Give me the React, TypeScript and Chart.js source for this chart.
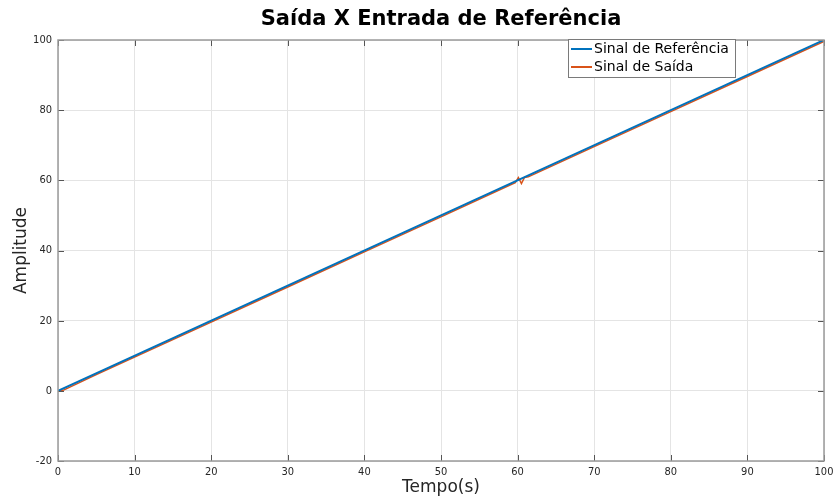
import React, { useEffect, useRef } from "react";
import { Chart, registerables } from "chart.js";

Chart.register(...registerables);

// Reference signal: a unit ramp
const refTime = [0, 100];
const refValue = [0, 100];

// Output signal: follows the ramp with a small lag, brief disturbance near t = 60 s
const outTime = [0, 0.5, 1, 5, 10, 20, 30, 40, 50, 59.7, 60.1, 60.5, 60.9, 61.4, 70, 80, 90, 100];
const outValue = [0, 0, 0.5, 4.6, 9.6, 19.6, 29.6, 39.6, 49.6, 59.3, 60.8, 59.1, 60.8, 61.0, 69.6, 79.6, 89.6, 99.6];

const xTicks = [0, 10, 20, 30, 40, 50, 60, 70, 80, 90, 100];
const yTicks = [-20, 0, 20, 40, 60, 80, 100];

const titleText = "Saída X Entrada de Referência";
const xLabel = "Tempo(s)";
const yLabel = "Amplitude";
const seriesNames = ["Sinal de Referência", "Sinal de Saída"];
const seriesColors = ["#0072BD", "#D95319"];

const TICK_FONT = "'DejaVu Sans Condensed', 'DejaVu Sans', sans-serif";
const FONT = "'DejaVu Sans', sans-serif";
const AXIS = "#262626";

export default function App() {
  const canvasRef = useRef<HTMLCanvasElement>(null);

  useEffect(() => {
    document.body.style.margin = "0";
    const ctx = canvasRef.current!.getContext("2d")!;

    const decor = {
      id: "decor",
      afterDraw(chart: any) {
        const c = chart.ctx;
        const { left, right, top, bottom } = chart.chartArea;
        const xs = chart.scales.x;
        const ys = chart.scales.y;
        c.save();
        // inward tick marks
        c.strokeStyle = "#555";
        c.lineWidth = 1;
        c.beginPath();
        xTicks.forEach((t) => {
          const px = Math.round(xs.getPixelForValue(t)) + 0.5;
          c.moveTo(px, bottom);
          c.lineTo(px, bottom - 6);
          c.moveTo(px, top);
          c.lineTo(px, top + 6);
        });
        yTicks.forEach((t) => {
          const py = Math.round(ys.getPixelForValue(t)) + 0.5;
          c.moveTo(left, py);
          c.lineTo(left + 6, py);
          c.moveTo(right, py);
          c.lineTo(right - 6, py);
        });
        c.stroke();
        // axes box
        c.strokeStyle = "#9a9a9a";
        c.lineWidth = 1.5;
        c.strokeRect(left, top, right - left, bottom - top);

        // title
        c.fillStyle = "#000";
        c.font = `bold 21px ${FONT}`;
        c.textAlign = "center";
        c.textBaseline = "middle";
        c.fillText(titleText, (left + right) / 2, 20);

        // axis labels
        c.fillStyle = AXIS;
        c.font = `17px ${FONT}`;
        c.fillText(xLabel, (left + right) / 2, 488);
        c.save();
        c.translate(22, (top + bottom) / 2);
        c.rotate(-Math.PI / 2);
        c.fillText(yLabel, 0, 0);
        c.restore();

        // legend
        const lx = 568, ly = 39, lw = 167, lh = 38;
        c.fillStyle = "#fff";
        c.fillRect(lx, ly, lw, lh);
        c.strokeStyle = "#7a7a7a";
        c.lineWidth = 1;
        c.strokeRect(lx + 0.5, ly + 0.5, lw, lh);
        c.font = `14px ${FONT}`;
        c.textAlign = "left";
        seriesNames.forEach((name, i) => {
          const yy = ly + 10 + i * 18;
          c.strokeStyle = seriesColors[i];
          c.lineWidth = 2;
          c.beginPath();
          c.moveTo(lx + 3, yy);
          c.lineTo(lx + 24, yy);
          c.stroke();
          c.fillStyle = "#000";
          c.fillText(name, lx + 26, yy);
        });
        c.restore();
      },
    };

    const chart = new Chart(ctx, {
      type: "line",
      data: {
        datasets: [
          {
            label: seriesNames[0],
            data: refTime.map((t, i) => ({ x: t, y: refValue[i] })),
            borderColor: seriesColors[0],
            borderWidth: 2,
            pointRadius: 0,
            tension: 0,
          },
          {
            label: seriesNames[1],
            data: outTime.map((t, i) => ({ x: t, y: outValue[i] })),
            borderColor: seriesColors[1],
            borderWidth: 1.5,
            pointRadius: 0,
            tension: 0,
          },
        ],
      },
      options: {
        responsive: false,
        animation: false,
        layout: { padding: { top: 40, right: 11, left: 0, bottom: 0 } },
        plugins: {
          legend: { display: false },
          title: { display: false },
          tooltip: { enabled: false },
        },
        scales: {
          x: {
            type: "linear",
            min: 0,
            max: 100,
            afterFit: (s: any) => {
              s.height = 39;
              s.paddingLeft = 0;
              s.paddingRight = 0;
            },
            afterBuildTicks: (s: any) => {
              s.ticks = xTicks.map((v) => ({ value: v }));
            },
            ticks: {
              color: AXIS,
              font: { family: TICK_FONT, size: 11 },
              padding: 5,
              maxRotation: 0,
            },
            grid: { color: "#e4e4e4", drawTicks: false },
            border: { display: false },
          },
          y: {
            type: "linear",
            min: -20,
            max: 100,
            afterFit: (s: any) => {
              s.width = 58;
              s.paddingTop = 0;
              s.paddingBottom = 0;
            },
            afterBuildTicks: (s: any) => {
              s.ticks = yTicks.map((v) => ({ value: v }));
            },
            ticks: {
              color: AXIS,
              font: { family: TICK_FONT, size: 11 },
              padding: 6,
            },
            grid: { color: "#e4e4e4", drawTicks: false },
            border: { display: false },
          },
        },
      },
      plugins: [decor],
    });

    return () => chart.destroy();
  }, []);

  return (
    <div style={{ position: "fixed", left: 0, top: 0, width: 835, height: 500, background: "#fff" }}>
      <canvas ref={canvasRef} width={835} height={500} />
    </div>
  );
}
